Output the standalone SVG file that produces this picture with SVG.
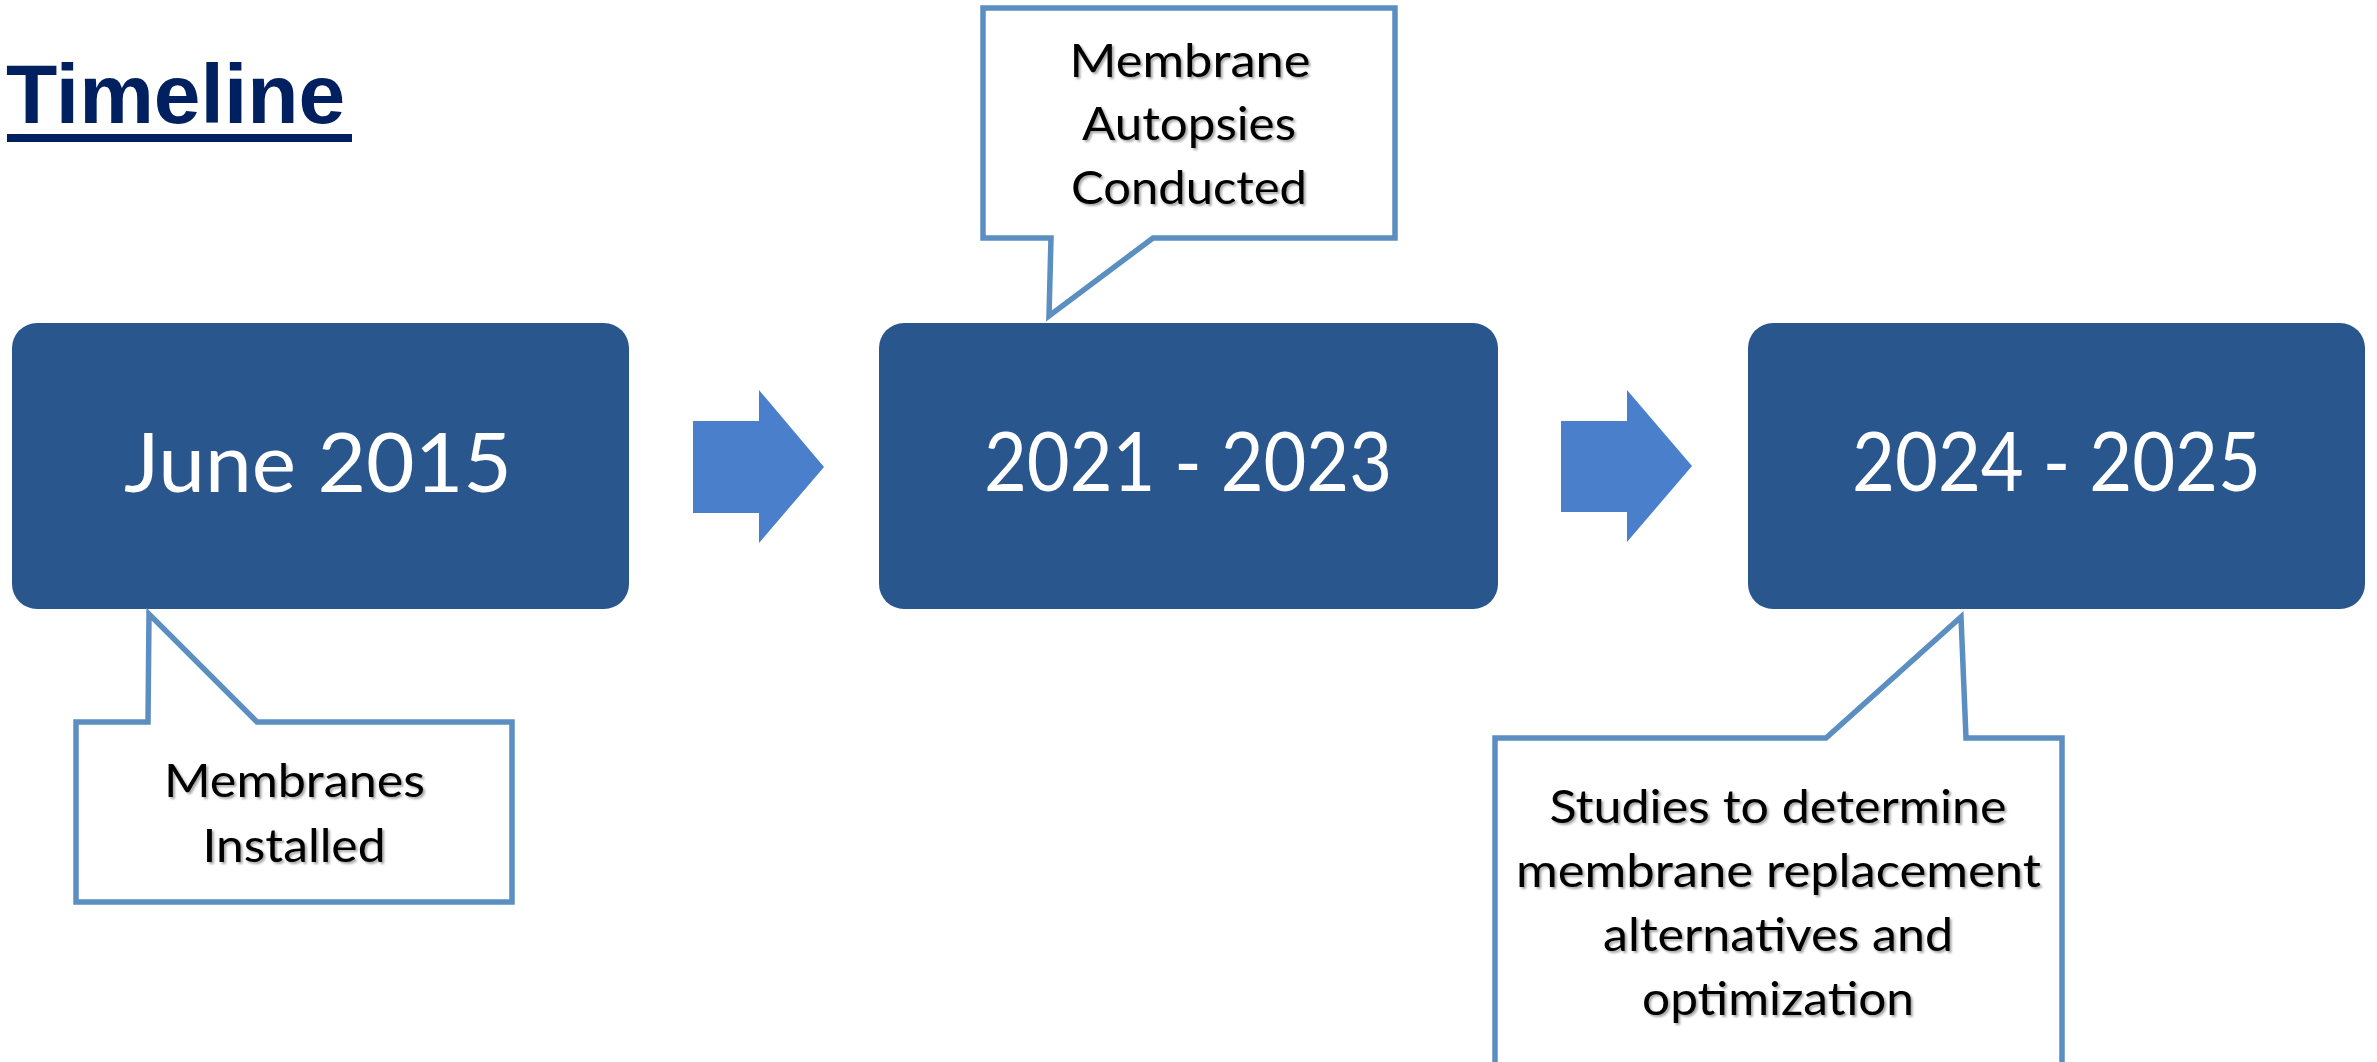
<svg xmlns="http://www.w3.org/2000/svg" width="2377" height="1062" viewBox="0 0 2377 1062">
  <defs>
    <filter id="tshadow" x="-10%" y="-30%" width="120%" height="160%">
      <feDropShadow dx="2" dy="2" stdDeviation="1.3" flood-color="#000000" flood-opacity="0.35"/>
    </filter>
  </defs>
  <style>
    .title { font-family: "Liberation Sans", Arial, sans-serif; font-weight: bold; font-size: 84px; fill: #002060; }
    .box { fill: #2A568E; }
    .boxtext { font-family: Lato, "Open Sans", sans-serif; font-size: 81px; fill: #FFFFFF; text-anchor: middle; }
    .callout { fill: #FFFFFF; stroke: #5B8EC1; stroke-width: 5.5; stroke-linejoin: miter; }
    .ctext { font-family: Lato, "Open Sans", sans-serif; font-size: 47px; fill: #000000; text-anchor: middle; filter: url(#tshadow); }
    .arrow { fill: #4A80CB; }
  </style>
  <rect x="0" y="0" width="2377" height="1062" fill="#FFFFFF"/>

  <g id="title">
    <text class="title" x="6" y="123">Timeline</text>
    <rect x="7" y="134" width="345" height="8" fill="#002060"/>
  </g>

  <g id="node-june-2015">
    <rect class="box" x="12" y="323" width="617" height="286" rx="25" ry="25"/>
    <text class="boxtext" x="318" y="492" textLength="388" lengthAdjust="spacingAndGlyphs">June 2015</text>
  </g>

  <g id="node-2021-2023">
    <rect class="box" x="879" y="323" width="619" height="286" rx="25" ry="25"/>
    <text class="boxtext" x="1188" y="491" textLength="408" lengthAdjust="spacingAndGlyphs">2021 - 2023</text>
  </g>

  <g id="node-2024-2025">
    <rect class="box" x="1748" y="323" width="617" height="286" rx="25" ry="25"/>
    <text class="boxtext" x="2056.5" y="491" textLength="409" lengthAdjust="spacingAndGlyphs">2024 - 2025</text>
  </g>

  <g id="connectors">
    <polygon class="arrow" points="693,421 759,421 759,390 824,467 759,543 759,513 693,513"/>
    <polygon class="arrow" points="1561,421 1627,421 1627,390 1692,466 1627,542 1627,512 1561,512"/>
  </g>

  <g id="callout-installed">
    <path class="callout" d="M76,722 L148,722 L149,614 L257,722 L512,722 L512,902 L76,902 Z"/>
    <text class="ctext" x="294.5" y="797" textLength="261" lengthAdjust="spacingAndGlyphs">Membranes</text>
    <text class="ctext" x="294" y="862" textLength="183" lengthAdjust="spacingAndGlyphs">Installed</text>
  </g>

  <g id="callout-autopsies">
    <path class="callout" d="M983,8 L1395,8 L1395,238 L1153,238 L1049,316 L1051,238 L983,238 Z"/>
    <text class="ctext" x="1190" y="77" textLength="241" lengthAdjust="spacingAndGlyphs">Membrane</text>
    <text class="ctext" x="1189" y="140" textLength="214" lengthAdjust="spacingAndGlyphs">Autopsies</text>
    <text class="ctext" x="1189" y="204" textLength="236" lengthAdjust="spacingAndGlyphs">Conducted</text>
  </g>

  <g id="callout-studies">
    <path class="callout" d="M1495,738 L1826,738 L1961,617 L1966,738 L2062,738 L2062,1075 L1495,1075 Z"/>
    <text class="ctext" x="1778" y="823" textLength="457" lengthAdjust="spacingAndGlyphs">Studies to determine</text>
    <text class="ctext" x="1778.5" y="887" textLength="525" lengthAdjust="spacingAndGlyphs">membrane replacement</text>
    <text class="ctext" x="1778" y="951" textLength="350" lengthAdjust="spacingAndGlyphs">alternatives and</text>
    <text class="ctext" x="1778" y="1015" textLength="272" lengthAdjust="spacingAndGlyphs">optimization</text>
  </g>
</svg>
